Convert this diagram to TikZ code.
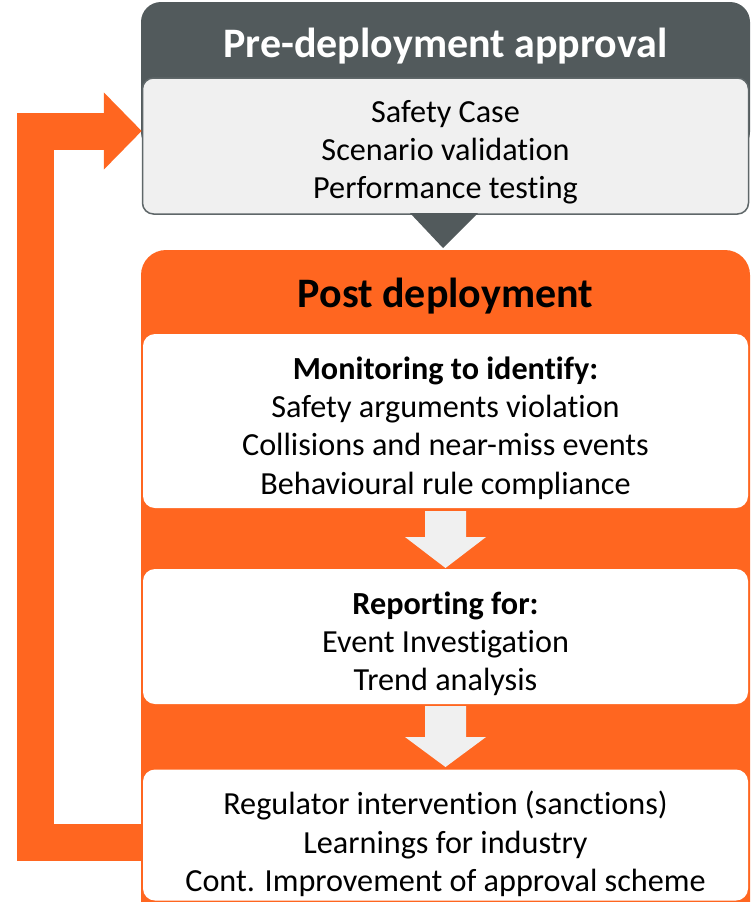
\documentclass[tikz,border=0pt]{standalone}
\usepackage{fontspec}
\setmainfont{Carlito}[Ligatures={NoCommon}]
\usetikzlibrary{arrows.meta}
\definecolor{slate}{HTML}{525A5C}
\definecolor{panelgrey}{HTML}{F0F0F0}
\definecolor{panelline}{HTML}{5F6769}
\definecolor{flame}{HTML}{FF6620}
\tikzset{
  body/.style={font=\fontsize{32.2}{38.2}\selectfont, align=center, text=black, inner sep=0pt},
  heading/.style={font=\fontsize{42}{48}\selectfont\bfseries, inner sep=0pt},
  whitebox/.style={fill=white, rounded corners=12pt, minimum width=605pt},
  downarrow/.style={fill=panelgrey},
  feedback/.style={draw=flame, line width=37pt, line join=miter,
    -{Triangle[length=38pt, width=75pt]}},
}
\begin{document}
\begin{tikzpicture}[x=1pt, y=-1pt]
  \useasboundingbox (0,0) rectangle (753,902);
  \clip (0,0) rectangle (753,902);

  % pre-deployment block: dark header with a light panel below
  \node[fill=slate, rounded corners=20pt, minimum width=609pt, minimum height=150pt, inner sep=0pt]
    (prehead) at (445.5,77) {};
  \node[heading, text=white] (pretitle) at (445.5,46) {Pre-deployment approval};
  \node[fill=panelgrey, draw=panelline, line width=1.5pt, rounded corners=11pt,
    minimum width=606pt, minimum height=136pt, inner sep=0pt] (panel) at (445.5,146) {};
  \node[body] (pretext) at (445.5,152) {Safety Case\\Scenario validation\\Performance testing};

  % pointer from the panel down to the post-deployment block
  \fill[slate] (410,213) -- (478,213) -- (443,248) -- cycle;

  % post-deployment block
  \node[fill=flame, rounded corners=25pt, minimum width=609pt, minimum height=700pt, inner sep=0pt]
    (post) at (445.5,600) {};
  \node[heading, text=black] (posttitle) at (445.5,296) {Post deployment};

  \node[whitebox, minimum height=174pt] (monitor) at (445.5,421) {};
  \node[body] (montext) at (445.5,428)
    {\textbf{Monitoring to identify:}\\Safety arguments violation\\Collisions and near-miss events\\Behavioural rule compliance};

  \node[whitebox, minimum height=135pt] (report) at (445.5,636.5) {};
  \node[body] (reptext) at (445.5,644) {\textbf{Reporting for:}\\Event Investigation\\Trend analysis};

  \node[whitebox, minimum height=131pt] (action) at (445.5,835) {};
  \node[body] (acttext) at (445.5,844)
    {Regulator intervention (sanctions)\\Learnings for industry\\Cont. Improvement of approval scheme};

  % block arrows between the stages
  \fill[downarrow] (425,511) -- (466,511) -- (466,537) -- (486,537)
    -- (445.5,568) -- (405,537) -- (425,537) -- cycle;
  \fill[downarrow] (425,706) -- (466,706) -- (466,737) -- (486,737)
    -- (445.5,767) -- (405,737) -- (425,737) -- cycle;

  % feedback loop back to the approval panel
  \draw[feedback] (action.west |- 0,842) -- (35.5,842) -- (35.5,131) -- (panel.west |- 0,131);
\end{tikzpicture}
\end{document}
